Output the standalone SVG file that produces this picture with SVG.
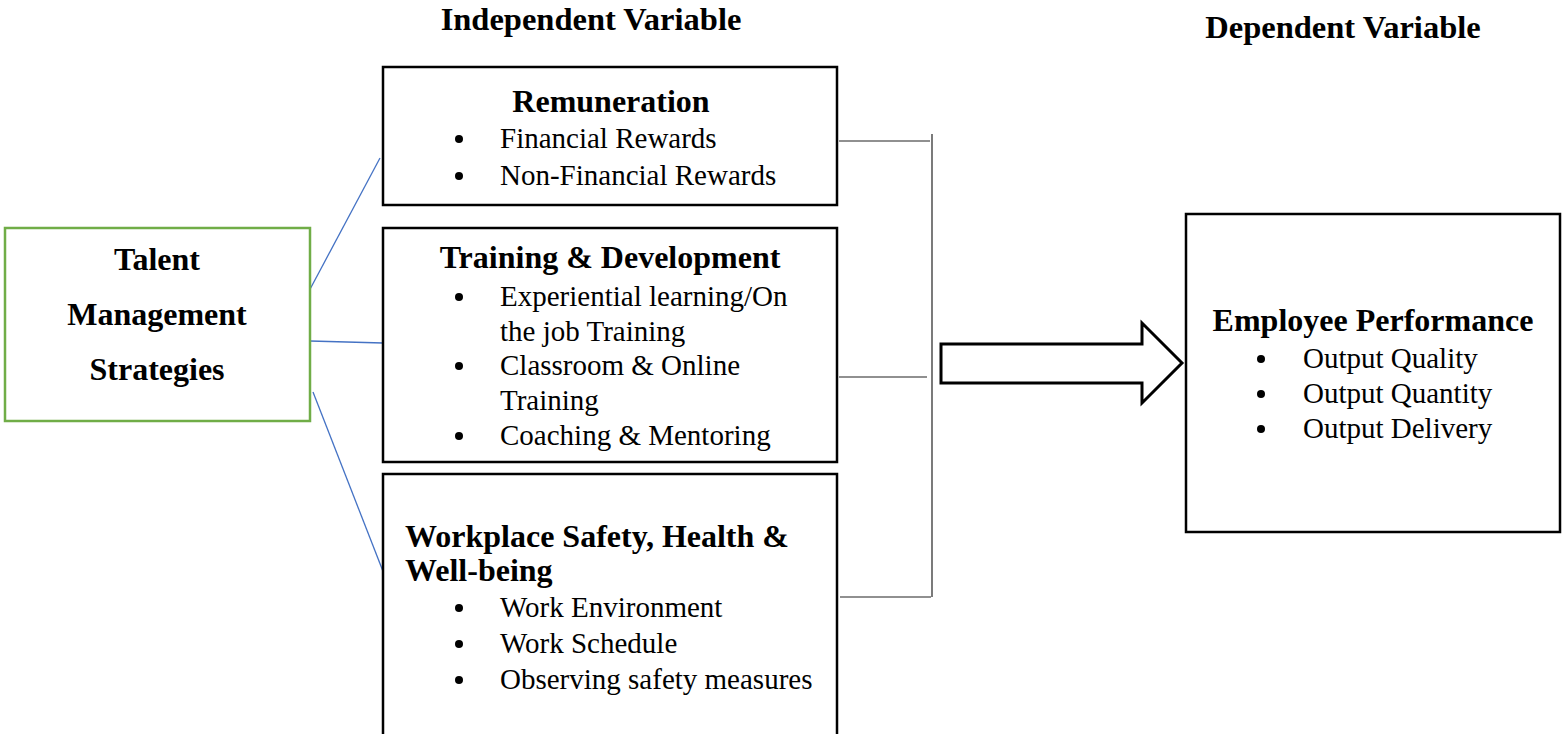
<svg xmlns="http://www.w3.org/2000/svg" width="1567" height="734" viewBox="0 0 1567 734">
  <style>
    text { font-family: "Liberation Serif", "Times New Roman", serif; fill: #000; }
    .hdr { font-size: 32.5px; font-weight: bold; }
    .ttl { font-size: 32px; font-weight: bold; }
    .itm { font-size: 29px; }
    .box { fill: #fff; stroke: #000; stroke-width: 2.5; }
    .src { fill: #fff; stroke: #70AD47; stroke-width: 2.5; }
    .link { stroke: #4472C4; stroke-width: 1.3; fill: none; }
    .brk { stroke: #222; stroke-width: 1.2; fill: none; }
    .dot { fill: #000; }
  </style>

  <!-- column headings -->
  <text class="hdr" x="591" y="30" text-anchor="middle">Independent Variable</text>
  <text class="hdr" x="1343" y="38" text-anchor="middle">Dependent Variable</text>

  <!-- connectors -->
  <g id="connectors">
    <line class="link" x1="308" y1="293" x2="380" y2="158"/>
    <line class="link" x1="310" y1="341" x2="383" y2="343"/>
    <line class="link" x1="313" y1="392" x2="386" y2="579"/>
    <line class="brk" x1="932" y1="134" x2="932" y2="597"/>
    <line class="brk" x1="839" y1="141" x2="930" y2="141"/>
    <line class="brk" x1="839" y1="377" x2="927" y2="377"/>
    <line class="brk" x1="840" y1="597" x2="931" y2="597"/>
    <polygon id="block-arrow" points="941,344 1142,344 1142,323 1182,363 1142,403 1142,383 941,383" fill="#fff" stroke="#000" stroke-width="3"/>
  </g>

  <!-- source node -->
  <g id="talent-management">
    <rect class="src" x="5" y="228" width="305" height="193"/>
    <text class="ttl" x="157" y="270" text-anchor="middle">Talent</text>
    <text class="ttl" x="157" y="325" text-anchor="middle">Management</text>
    <text class="ttl" x="157" y="380" text-anchor="middle">Strategies</text>
  </g>

  <g id="remuneration">
    <rect class="box" x="383" y="67" width="454" height="138"/>
    <text class="ttl" x="611" y="112" text-anchor="middle">Remuneration</text>
    <circle class="dot" cx="459" cy="139" r="4"/>
    <text class="itm" x="500" y="148">Financial Rewards</text>
    <circle class="dot" cx="459" cy="176" r="4"/>
    <text class="itm" x="500" y="185">Non-Financial Rewards</text>
  </g>

  <g id="training-development">
    <rect class="box" x="383" y="228" width="454" height="234"/>
    <text class="ttl" x="610" y="268" text-anchor="middle">Training &amp; Development</text>
    <circle class="dot" cx="459" cy="297" r="4"/>
    <text class="itm" x="500" y="306">Experiential learning/On</text>
    <text class="itm" x="500" y="341">the job Training</text>
    <circle class="dot" cx="459" cy="366" r="4"/>
    <text class="itm" x="500" y="375">Classroom &amp; Online</text>
    <text class="itm" x="500" y="410">Training</text>
    <circle class="dot" cx="459" cy="436" r="4"/>
    <text class="itm" x="500" y="445">Coaching &amp; Mentoring</text>
  </g>

  <g id="workplace-safety">
    <rect class="box" x="383" y="474" width="454" height="275"/>
    <text class="ttl" x="405" y="547">Workplace Safety, Health &amp;</text>
    <text class="ttl" x="405" y="581">Well-being</text>
    <circle class="dot" cx="459" cy="608" r="4"/>
    <text class="itm" x="500" y="617">Work Environment</text>
    <circle class="dot" cx="459" cy="644" r="4"/>
    <text class="itm" x="500" y="653">Work Schedule</text>
    <circle class="dot" cx="459" cy="680" r="4"/>
    <text class="itm" x="500" y="689">Observing safety measures</text>
  </g>

  <g id="employee-performance">
    <rect class="box" x="1186" y="214" width="374" height="318"/>
    <text class="ttl" x="1373" y="331" text-anchor="middle">Employee Performance</text>
    <circle class="dot" cx="1261" cy="359" r="4"/>
    <text class="itm" x="1303" y="368">Output Quality</text>
    <circle class="dot" cx="1261" cy="394" r="4"/>
    <text class="itm" x="1303" y="403">Output Quantity</text>
    <circle class="dot" cx="1261" cy="429" r="4"/>
    <text class="itm" x="1303" y="438">Output Delivery</text>
  </g>
</svg>
